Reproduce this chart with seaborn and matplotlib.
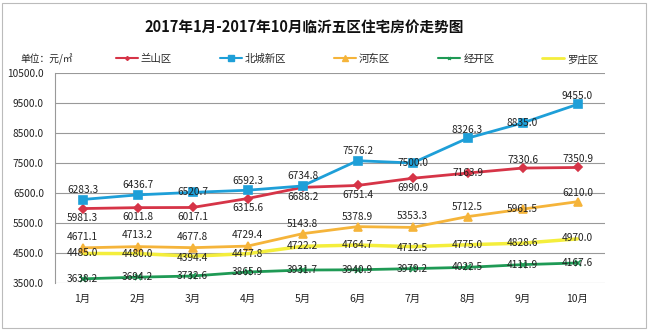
import matplotlib
matplotlib.use("Agg")
import matplotlib.pyplot as plt
import seaborn as sns
import pandas as pd
from matplotlib.lines import Line2D
from matplotlib.patches import Rectangle

months = ["1月", "2月", "3月", "4月", "5月", "6月", "7月", "8月", "9月", "10月"]
lanshan = [5981.3, 6011.8, 6017.1, 6315.6, 6688.2, 6751.4, 6990.9, 7163.9, 7330.6, 7350.9]
beicheng = [6283.3, 6436.7, 6520.7, 6592.3, 6734.8, 7576.2, 7500.0, 8326.3, 8835.0, 9455.0]
hedong = [4671.1, 4713.2, 4677.8, 4729.4, 5143.8, 5378.9, 5353.3, 5712.5, 5961.5, 6210.0]
jingkai = [3638.2, 3694.2, 3732.6, 3865.9, 3931.7, 3940.9, 3979.2, 4022.5, 4111.9, 4167.6]
luozhuang = [4485.0, 4480.0, 4394.4, 4477.8, 4722.2, 4764.7, 4712.5, 4775.0, 4828.6, 4970.0]
series_names = ["兰山区", "北城新区", "河东区", "经开区", "罗庄区"]
yticks = [3500, 4500, 5500, 6500, 7500, 8500, 9500, 10500]

sns.set_theme(style="white")
plt.rcParams['font.family'] = ['Noto Sans CJK SC', 'DejaVu Sans']

fig = plt.figure(figsize=(6.49, 3.30), dpi=100)
ax = fig.add_axes([55/649, 1-283/330, 550/649, 210/330])

styles = {
    "兰山区": dict(color="#D63447", marker="D", ms=4, lw=2.0),
    "北城新区": dict(color="#1E9FD8", marker="s", ms=6, lw=2.0),
    "河东区": dict(color="#F5B43A", marker="^", ms=6, lw=2.0),
    "经开区": dict(color="#1F9A55", marker="x", ms=4, lw=2.0),
    "罗庄区": dict(color="#F4EE3C", marker=None, ms=0, lw=2.5),
}
data = dict(zip(series_names, [lanshan, beicheng, hedong, jingkai, luozhuang]))
# label offset (in points) per series/point
offsets = {
    "兰山区": [-7, -7, -7, -7, -7, -7, -7, 0, 6, 6],
    "北城新区": [7, 7, 0, 7, 7, 7, 0, 6, 0, 6],
    "河东区": [8, 8, 8, 8, 7, 7, 8, 7, 0, 6],
    "经开区": [0, 0, 0, 0, 0, 0, 0, 0, 0, 0],
    "罗庄区": [0, 0, -1, 0, 0, 0, -1, 0, 0, 1],
}
order = ["罗庄区", "经开区", "河东区", "兰山区", "北城新区"]
for name in order:
    vals = data[name]
    st = styles[name]
    df = pd.DataFrame({"x": range(len(months)), "y": vals})
    sns.lineplot(data=df, x="x", y="y", ax=ax, color=st["color"], lw=st["lw"],
                 marker=st["marker"], markersize=st["ms"], markeredgecolor=st["color"],
                 markeredgewidth=1.2, zorder=3)
for name in series_names:
    for i, v in enumerate(data[name]):
        off = offsets[name][i]
        ax.annotate(f"{v:.1f}", (i, v), xytext=(0, off), textcoords="offset points",
                    ha="center", va="center", fontsize=7.3, color="#222222", zorder=4)

ax.set_xlim(-0.5, len(months) - 0.5)
ax.set_ylim(3500, 10500)
ax.set_yticks(yticks)
ax.set_yticklabels([f"{t:.1f}" for t in yticks], fontsize=7.3, color="#222222")
ax.set_xticks(range(len(months)))
ax.set_xticklabels(months, fontsize=7.5, color="#222222")
ax.tick_params(axis="x", pad=8, length=0)
ax.tick_params(axis="y", pad=8, length=0)
ax.set_xlabel("")
ax.set_ylabel("")
ax.grid(axis="y", color="#999999", lw=0.8)
for s in ["top", "right", "bottom"]:
    ax.spines[s].set_visible(False)
ax.spines["left"].set_color("#999999")
ax.spines["left"].set_linewidth(0.8)

fig.text(304/649, 1-27/330, "2017年1月-2017年10月临沂五区住宅房价走势图", ha="center", va="center",
         fontsize=10.5, fontweight="bold", color="#111111")
fig.text(20/649, 1-59/330, "单位：元/㎡", ha="left", va="center", fontsize=7, color="#222222")

handles = []
for name in series_names:
    st = styles[name]
    handles.append(Line2D([0], [0], color=st["color"], lw=st["lw"] - 0.5, marker=st["marker"],
                          markersize=max(st["ms"] - 2, 0), markeredgecolor=st["color"]))
fig.legend(handles, series_names, loc="center", bbox_to_anchor=(357/649, 1-59/330), ncol=5,
           frameon=False, fontsize=7.5, handlelength=2.1, handletextpad=0.3, columnspacing=4.6)

fig.patches.append(Rectangle((2/649, 2/330), 644/649, 325/330, transform=fig.transFigure,
                             fill=False, edgecolor="#BBBBBB", lw=0.8))
fig.savefig("out.png", dpi=100)
